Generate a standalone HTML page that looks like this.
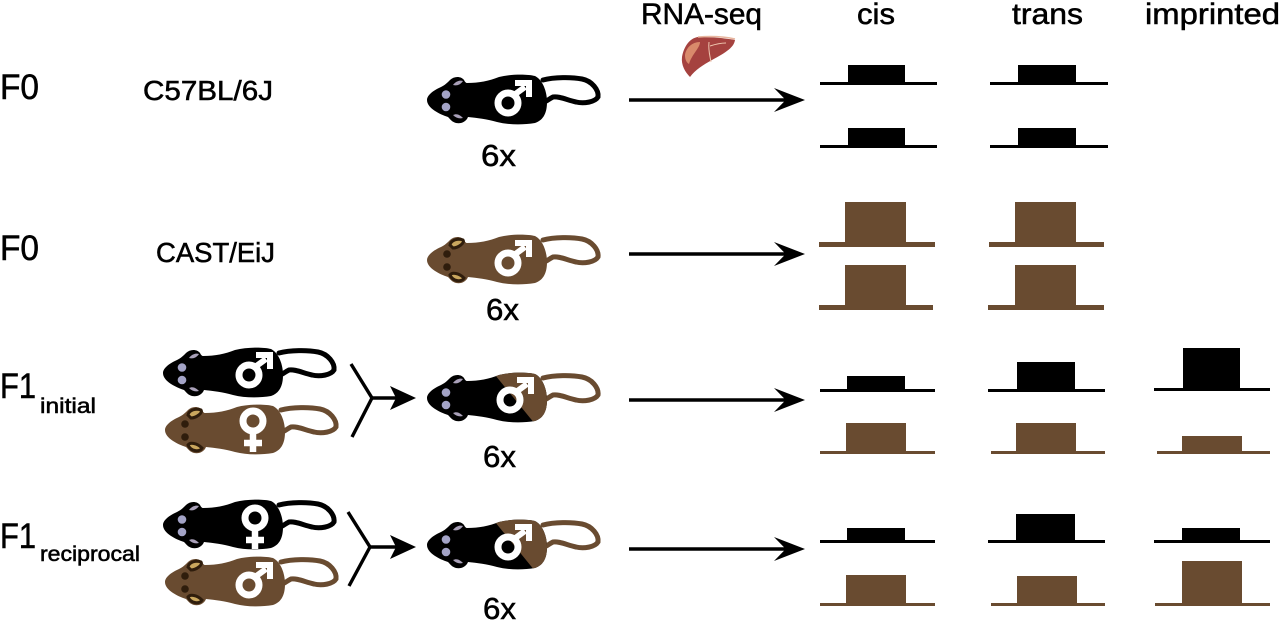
<!DOCTYPE html>
<html><head><meta charset="utf-8"><style>
html,body{margin:0;padding:0;background:#fff}
svg{display:block}
text{font-family:"Liberation Sans",sans-serif;fill:#000;stroke:#000;stroke-width:.55}
.b{fill:#694b30}
.k{fill:#000}
</style></head><body>
<svg xmlns="http://www.w3.org/2000/svg" width="1280" height="621" viewBox="0 0 1280 621">
<defs>
<path id="body" d="M0 0 C0 -5 7 -10 14 -13 C18 -15 20 -17 23 -20 C27 -24 34 -24 37 -20 C38 -18 39 -17 40 -17 C52 -17 62 -19 72 -23 C84 -26 100 -26 108 -24 C116 -20 120 -8 120 2 C120 12 117 20 108 23 C96 25 82 25 70 22 C60 19 50 18 41 17 C39 22 34 24 29 23 C25 22 23 19 21 17 C12 14 0 8 0 0Z"/>
<path id="tail" d="M116 -20 C127 -23 145 -23 155 -21 C165 -19 172 -10 171 -3 C168 2 157 4 149 2 C140 0 132 -4 126 -3 C122 -1 120 1 117 2" fill="none" stroke-width="5" stroke-linecap="round"/>
<clipPath id="c1"><use href="#body" x="427" y="398"/></clipPath>
<clipPath id="c2"><use href="#body" x="427" y="545"/></clipPath>
<g id="bEars"><path d="M26 -15 C29 -19 33 -20 36 -19 C33 -15 30 -14 26 -15Z" fill="#a9a0b8"/><path d="M26 15 C30 13 33 15 36 18 C32 19 29 18 26 15Z" fill="#a9a0b8"/><circle cx="19" cy="-5.5" r="4.3" fill="#a3a3c6"/><circle cx="19" cy="7" r="4.3" fill="#a3a3c6"/></g>
<g id="nEars"><path d="M23 -15 C24 -20 31 -22 36 -20 C38 -17 31 -12 26 -12Z" fill="#caa75e" stroke="#2f1d0c" stroke-width="3"/><path d="M23 15 C25 12 32 13 37 18 C35 22 26 22 23 15Z" fill="#caa75e" stroke="#2f1d0c" stroke-width="3"/><circle cx="20" cy="-6" r="3.8" fill="#2f1d0c"/><circle cx="20" cy="7" r="3.8" fill="#2f1d0c"/></g>
<g id="male" fill="none" stroke="#fff"><circle r="10" stroke-width="7"/><path d="M6 -8 L17 -16" stroke-width="6"/><path d="M7 -20 H21 V-6" stroke-width="6"/></g>
<g id="female" fill="none" stroke="#fff"><circle r="10" stroke-width="7"/><path d="M0 10 V31" stroke-width="6.5"/><path d="M-9 22 H9" stroke-width="6.5"/></g>
<path id="arr" d="M0 -1.8 H155 L145 -12 L176 0 L145 12 L155 1.8 H0Z"/>
</defs>

<!-- Mice -->
<g transform="translate(427 100)"><use href="#tail" stroke="#000"/><use href="#body" class="k"/><use href="#bEars"/><use href="#male" x="81" y="3"/></g>
<g transform="translate(427 260)"><use href="#tail" stroke="#694b30"/><use href="#body" class="b"/><use href="#nEars"/><use href="#male" x="81" y="3"/></g>
<g transform="translate(163 373)"><use href="#tail" stroke="#000"/><use href="#body" class="k"/><use href="#bEars"/><use href="#male" x="86" y="2"/></g>
<g transform="translate(165 430)"><use href="#tail" stroke="#694b30"/><use href="#body" class="b"/><use href="#nEars"/><use href="#female" x="88" y="-9"/></g>
<g transform="translate(163 525)"><use href="#tail" stroke="#000"/><use href="#body" class="k"/><use href="#bEars"/><use href="#female" x="92" y="-7"/></g>
<g transform="translate(165 582)"><use href="#tail" stroke="#694b30"/><use href="#body" class="b"/><use href="#nEars"/><use href="#male" x="84" y="3"/></g>

<!-- F1 children -->
<g transform="translate(427 398)"><use href="#tail" stroke="#694b30"/></g>
<use href="#body" x="427" y="398" class="k"/>
<polygon points="491,370 552,370 552,430 535,424" class="b" clip-path="url(#c1)"/>
<g transform="translate(427 398)"><use href="#bEars"/><use href="#male" x="83" y="2"/></g>
<g transform="translate(427 545)"><use href="#tail" stroke="#694b30"/></g>
<use href="#body" x="427" y="545" class="k"/>
<polygon points="491,517 552,517 552,577 535,571" class="b" clip-path="url(#c2)"/>
<g transform="translate(427 545)"><use href="#bEars"/><use href="#male" x="81" y="2"/></g>

<!-- Cross connectors -->
<g fill="none" stroke="#000" stroke-width="3.4">
<path d="M351 364 L372 398 L352 437"/><path d="M372 398 H402"/>
<path d="M348 512 L370 547 L349 586"/><path d="M370 547 H402"/>
</g>
<path d="M390 386 L416 398 L390 410 L396 398Z"/>
<path d="M390 535 L416 547 L390 559 L396 547Z"/>

<!-- Long arrows -->
<use href="#arr" x="629" y="100"/><use href="#arr" x="629" y="254"/><use href="#arr" x="629" y="400"/><use href="#arr" x="629" y="549"/>

<!-- Liver -->
<path d="M682 57 C684 46 690 38 698 37 C712 37 724 38 735 40 C734 47 727 52 712 60 C703 65 695 70 690 77 C685 72 681 65 682 57Z" fill="#a5423f"/>
<path d="M685 55 C686 48 692 42 700 42 C700 48 692 54 689 64 C686 62 685 59 685 55Z" fill="#d98a6b"/>
<path d="M698 37 C712 36 726 37 735 39" fill="none" stroke="#e8b7a0" stroke-width="1.5"/>
<path d="M709 42 C708 50 710 56 711 62 M710 46 C716 44 722 43 726 43" fill="none" stroke="#eec5ae" stroke-width="1"/>

<!-- Bars: black -->
<g class="k">
<rect x="820" y="82" width="117" height="3"/><rect x="848" y="65" width="57" height="18"/>
<rect x="820" y="145" width="117" height="3"/><rect x="848" y="128" width="57" height="18"/>
<rect x="990" y="82" width="118" height="3"/><rect x="1018" y="65" width="58" height="18"/>
<rect x="990" y="145" width="118" height="3"/><rect x="1018" y="128" width="58" height="18"/>
<rect x="820" y="389" width="115" height="3"/><rect x="847" y="376" width="58" height="14"/>
<rect x="988" y="389" width="117" height="3"/><rect x="1017" y="362" width="58" height="28"/>
<rect x="1154" y="388" width="116" height="3"/><rect x="1183" y="348" width="57" height="41"/>
<rect x="820" y="540" width="115" height="3"/><rect x="847" y="528" width="58" height="13"/>
<rect x="988" y="540" width="117" height="3"/><rect x="1016" y="514" width="59" height="27"/>
<rect x="1154" y="540" width="116" height="3"/><rect x="1182" y="528" width="58" height="13"/>
</g>
<!-- Bars: brown -->
<g class="b">
<rect x="819" y="242" width="116" height="5"/><rect x="845" y="202" width="61" height="42"/>
<rect x="819" y="305" width="114" height="5"/><rect x="845" y="265" width="61" height="42"/>
<rect x="989" y="242" width="115" height="5"/><rect x="1015" y="202" width="61" height="42"/>
<rect x="988" y="305" width="116" height="5"/><rect x="1015" y="265" width="61" height="42"/>
<rect x="820" y="451" width="115" height="3"/><rect x="846" y="423" width="60" height="29"/>
<rect x="991" y="451" width="114" height="3"/><rect x="1016" y="423" width="60" height="29"/>
<rect x="1157" y="451" width="113" height="3"/><rect x="1182" y="436" width="60" height="16"/>
<rect x="820" y="603" width="115" height="3"/><rect x="846" y="575" width="60" height="29"/>
<rect x="991" y="603" width="114" height="3"/><rect x="1017" y="576" width="60" height="28"/>
<rect x="1155" y="603" width="115" height="3"/><rect x="1182" y="561" width="60" height="43"/>
</g>

<!-- Labels -->
<text x="0" y="99" font-size="35" textLength="39" lengthAdjust="spacingAndGlyphs">F0</text>
<text x="0" y="260" font-size="35" textLength="39" lengthAdjust="spacingAndGlyphs">F0</text>
<text x="0" y="398" font-size="35" textLength="36" lengthAdjust="spacingAndGlyphs">F1</text>
<text x="40" y="413" font-size="21" textLength="56" lengthAdjust="spacingAndGlyphs">initial</text>
<text x="0" y="548" font-size="35" textLength="36" lengthAdjust="spacingAndGlyphs">F1</text>
<text x="40" y="561" font-size="21" textLength="100" lengthAdjust="spacingAndGlyphs">reciprocal</text>
<text x="143" y="100" font-size="28" textLength="130" lengthAdjust="spacingAndGlyphs">C57BL/6J</text>
<text x="156" y="262" font-size="28" textLength="119" lengthAdjust="spacingAndGlyphs">CAST/EiJ</text>
<text x="641" y="24" font-size="30" textLength="121" lengthAdjust="spacingAndGlyphs">RNA-seq</text>
<text x="857" y="24" font-size="30" textLength="38" lengthAdjust="spacingAndGlyphs">cis</text>
<text x="1012" y="24" font-size="30" textLength="71" lengthAdjust="spacingAndGlyphs">trans</text>
<text x="1145" y="24" font-size="30" textLength="135" lengthAdjust="spacingAndGlyphs">imprinted</text>
<text x="481" y="166" font-size="31" textLength="35" lengthAdjust="spacingAndGlyphs">6x</text>
<text x="486" y="320" font-size="31" textLength="33" lengthAdjust="spacingAndGlyphs">6x</text>
<text x="483" y="467" font-size="31" textLength="33" lengthAdjust="spacingAndGlyphs">6x</text>
<text x="483" y="619" font-size="31" textLength="33" lengthAdjust="spacingAndGlyphs">6x</text>
</svg>
</body></html>
